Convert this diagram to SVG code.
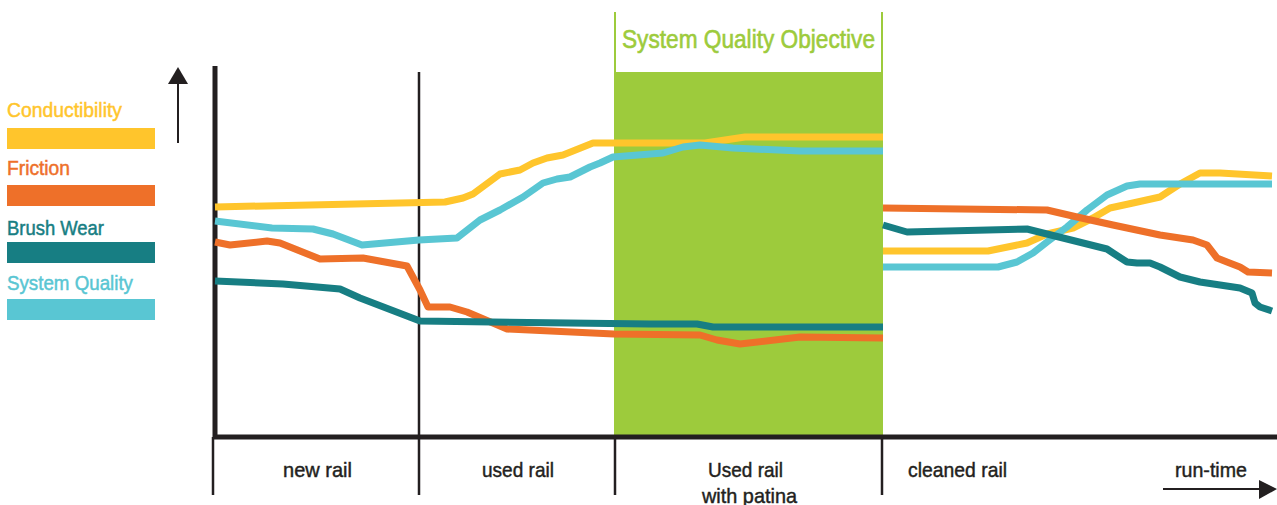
<svg xmlns="http://www.w3.org/2000/svg" width="1277" height="505" viewBox="0 0 1277 505">
<style>
  .lbl{font-family:"Liberation Sans",Arial,sans-serif;font-size:21px;fill:#231F20;stroke:#231F20;stroke-width:0.45}
  .leg{font-family:"Liberation Sans",Arial,sans-serif;font-size:21px;stroke-width:0.5}
  .curve{fill:none;stroke-width:7;stroke-linejoin:round;stroke-linecap:butt}
  .yel{stroke:#FFC52C}.ora{stroke:#EE7029}.tea{stroke:#177E83}.blu{stroke:#59C6D3}
  .ax{stroke:#231F20;fill:none}
</style>
<rect width="1277" height="505" fill="#ffffff"/>

<g id="objective">
  <rect x="614" y="72" width="269" height="365" fill="#9DCB3C"/>
  <line x1="615" y1="12" x2="615" y2="72" stroke="#9DCB3C" stroke-width="2"/>
  <line x1="882" y1="12" x2="882" y2="79" stroke="#9DCB3C" stroke-width="2"/>
  <text x="622" y="48" textLength="253" lengthAdjust="spacingAndGlyphs" style="font-family:'Liberation Sans',Arial,sans-serif;font-size:25px;fill:#9DCB3C;stroke:#9DCB3C;stroke-width:0.6">System Quality Objective</text>
</g>

<g id="legend">
  <text class="leg" x="7" y="117" fill="#FFC52C" stroke="#FFC52C" textLength="115" lengthAdjust="spacingAndGlyphs">Conductibility</text>
  <rect x="7" y="128" width="148" height="21" fill="#FFC52C"/>
  <text class="leg" x="7" y="175" fill="#EE7029" stroke="#EE7029" textLength="63" lengthAdjust="spacingAndGlyphs">Friction</text>
  <rect x="7" y="185" width="148" height="21" fill="#EE7029"/>
  <text class="leg" x="7" y="235" fill="#177E83" stroke="#177E83" textLength="97" lengthAdjust="spacingAndGlyphs">Brush Wear</text>
  <rect x="7" y="242" width="148" height="21" fill="#177E83"/>
  <text class="leg" x="7" y="290" fill="#59C6D3" stroke="#59C6D3" textLength="126" lengthAdjust="spacingAndGlyphs">System Quality</text>
  <rect x="7" y="299" width="148" height="21" fill="#59C6D3"/>
</g>

<g id="axes">
  <line class="ax" x1="178" y1="143" x2="178" y2="82" stroke-width="2"/>
  <polygon points="168,84 188,84 178,67" fill="#231F20"/>
  <line class="ax" x1="215" y1="66" x2="215" y2="439" stroke-width="5"/>
  <line class="ax" x1="213" y1="437" x2="1277" y2="437" stroke-width="5"/>
  <line class="ax" x1="213" y1="437" x2="213" y2="495" stroke-width="2.5"/>
  <line class="ax" x1="419" y1="72" x2="419" y2="495" stroke-width="2.5"/>
  <line class="ax" x1="615" y1="437" x2="615" y2="495" stroke-width="2.5"/>
  <line class="ax" x1="882" y1="437" x2="882" y2="495" stroke-width="2.5"/>
  <line class="ax" x1="1163" y1="489" x2="1262" y2="489" stroke-width="2"/>
  <polygon points="1259,480 1277,489 1259,499" fill="#231F20"/>
</g>

<g id="labels">
  <text class="lbl" x="283" y="477" textLength="69" lengthAdjust="spacingAndGlyphs">new rail</text>
  <text class="lbl" x="482" y="477" textLength="72" lengthAdjust="spacingAndGlyphs">used rail</text>
  <text class="lbl" x="708" y="477" textLength="75" lengthAdjust="spacingAndGlyphs">Used rail</text>
  <text class="lbl" x="702" y="503" textLength="95" lengthAdjust="spacingAndGlyphs">with patina</text>
  <text class="lbl" x="908" y="477" textLength="99" lengthAdjust="spacingAndGlyphs">cleaned rail</text>
  <text class="lbl" x="1175" y="477" textLength="72" lengthAdjust="spacingAndGlyphs">run-time</text>
</g>

<g id="connectors">
  <!-- Conductibility -->
  <polyline class="curve yel" points="215,207 445,202 463,198 473,194 500,174 520,170 533,163 547,158 563,155 593,143 705,143 745,137 883,137"/>
  <polyline class="curve yel" points="883,251 988,251 1027,243 1047,234 1073,228 1093,218 1110,208 1133,203 1160,197 1180,184 1200,173 1220,173 1272,176"/>
  <!-- System Quality -->
  <polyline class="curve blu" points="215,221 272,228 313,229 333,234 362,245 419,240 457,238 480,220 500,210 523,197 543,183 557,179 570,177 590,167 600,163 613,157 663,153 683,147 700,145 733,148 800,151 883,151"/>
  <polyline class="curve blu" points="883,267 998,267 1017,262 1033,253 1047,242 1067,227 1087,210 1107,195 1127,186 1140,184 1272,184"/>
  <!-- Friction -->
  <polyline class="curve ora" points="215,242 230,245 267,241 280,243 320,259 363,258 407,266 420,290 428,307 450,307 467,312 507,329 614,334 700,335 717,340 740,344 800,337 883,338"/>
  <polyline class="curve ora" points="883,208 1047,210 1077,217 1113,225 1160,235 1193,240 1207,245 1217,258 1227,262 1240,267 1248,272 1272,273"/>
  <!-- Brush Wear -->
  <polyline class="curve tea" points="215,281 283,284 340,289 360,298 420,321 650,324 697,324 713,327 883,327"/>
  <polyline class="curve tea" points="883,225 907,232 1027,229 1107,249 1113,253 1127,262 1137,263 1150,263 1160,267 1180,277 1200,282 1240,288 1252,293 1255,303 1260,307 1272,311"/>
</g>
</svg>
